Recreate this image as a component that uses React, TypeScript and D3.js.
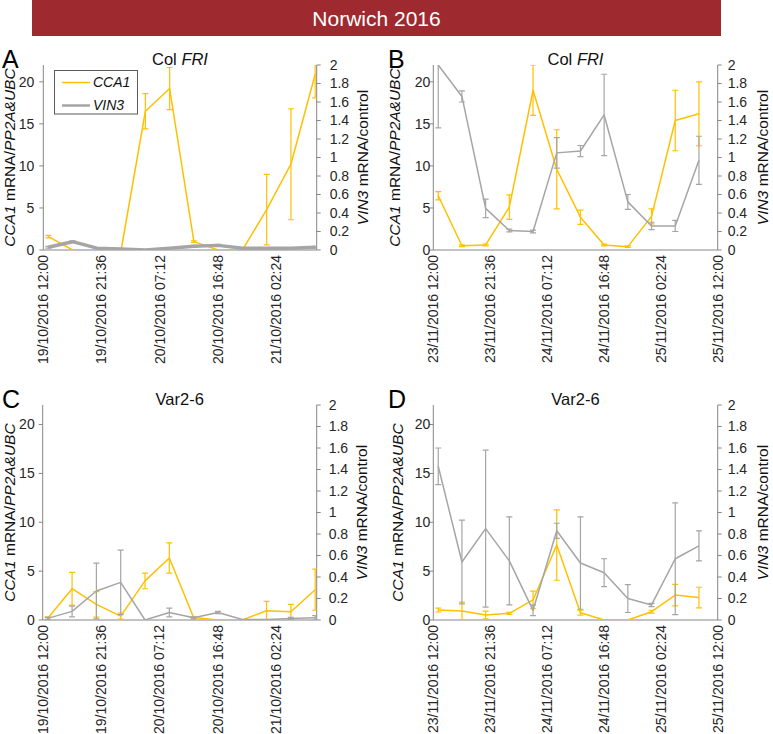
import * as React from 'react';
import * as d3 from 'd3';

// sampling times (every 4 h) and axis tick labels
const octTimes = ['19/10/2016 12:50', '19/10/2016 16:50', '19/10/2016 20:50', '20/10/2016 00:50', '20/10/2016 04:50', '20/10/2016 08:50',
  '20/10/2016 12:50', '20/10/2016 16:50', '20/10/2016 20:50', '21/10/2016 00:50', '21/10/2016 04:50', '21/10/2016 08:50'];
const novTimes = ['23/11/2016 12:50', '23/11/2016 16:50', '23/11/2016 20:50', '24/11/2016 00:50', '24/11/2016 04:50', '24/11/2016 08:50',
  '24/11/2016 12:50', '24/11/2016 16:50', '24/11/2016 20:50', '25/11/2016 00:50', '25/11/2016 04:50', '25/11/2016 08:50'];
const octTicks = ['19/10/2016 12:00', '19/10/2016 21:36', '20/10/2016 07:12', '20/10/2016 16:48', '21/10/2016 02:24'];
const novTicks = ['23/11/2016 12:00', '23/11/2016 21:36', '24/11/2016 07:12', '24/11/2016 16:48', '25/11/2016 02:24', '25/11/2016 12:00'];
const octEnd = '21/10/2016 09:05';
const novEnd = '25/11/2016 12:00';
const cca1Ticks = [0, 5, 10, 15, 20];
const vin3Ticks = [0, 0.2, 0.4, 0.6, 0.8, 1, 1.2, 1.4, 1.6, 1.8, 2];

// A: Col FRI, October
const cca1A = [1.6, 0, 0, 0, 16.5, 19.2, 1.0, 0, 0, 4.8, 10.2, 20.9];
const cca1AErr = [0.15, 0, 0, 0, 2.1, 2.5, 0.1, 0, 0, 4.2, 6.6, 2.8];
const vin3A = [0.03, 0.09, 0.02, 0.01, 0.0, 0.02, 0.04, 0.05, 0.02, 0.02, 0.02, 0.03];
const vin3AErr = [0.01, 0.01, 0, 0, 0, 0, 0.01, 0.01, 0, 0, 0, 0.01];
// B: Col FRI, November
const cca1B = [6.45, 0.5, 0.6, 5.1, 19.0, 9.6, 3.9, 0.6, 0.4, 4.0, 15.4, 16.2];
const cca1BErr = [0.5, 0.1, 0.1, 1.45, 3.0, 4.7, 0.85, 0.1, 0.1, 0.9, 3.6, 3.8];
const vin3B = [2.0, 1.66, 0.45, 0.21, 0.2, 1.05, 1.07, 1.46, 0.52, 0.26, 0.26, 0.97];
const vin3BErr = [0.68, 0.06, 0.1, 0.015, 0.015, 0.165, 0.06, 0.44, 0.08, 0.04, 0.06, 0.26];
// C: Var2-6, October
const cca1C = [0.17, 3.2, 1.6, 0.4, 4.0, 6.35, 0.25, 0, 0, 0.95, 0.85, 3.1];
const cca1CErr = [0.15, 1.67, 1.3, 0.3, 0.8, 1.55, 0.05, 0, 0, 0.95, 0.75, 2.1];
const vin3C = [0.015, 0.08, 0.27, 0.35, 0, 0.07, 0.02, 0.07, 0.005, 0.005, 0.015, 0.02];
const vin3CErr = [0.01, 0.05, 0.26, 0.3, 0, 0.04, 0.01, 0.01, 0, 0, 0.01, 0.02];
// D: Var2-6, November
const cca1D = [1.02, 0.92, 0.51, 0.68, 2.05, 7.67, 0.75, 0, 0, 0.85, 2.55, 2.3];
const cca1DErr = [0.2, 0.9, 0.4, 0.1, 0.9, 3.6, 0.25, 0, 0, 0.15, 1.1, 1.05];
const vin3D = [1.43, 0.54, 0.85, 0.55, 0.09, 0.83, 0.53, 0.44, 0.2, 0.14, 0.57, 0.69];
const vin3DErr = [0.17, 0.39, 0.73, 0.41, 0.05, 0.07, 0.43, 0.13, 0.13, 0.015, 0.52, 0.14];

const YELLOW = '#FFC000';
const GREY = '#A5A5A5';
const AXIS = '#868686';
const FONT = "'Liberation Sans', Arial, sans-serif";

type Part = { t: string; i?: boolean };

const panels = [
  { letter: 'A', title: [{ t: 'Col ' }, { t: 'FRI', i: true }], times: octTimes, ticks: octTicks, end: octEnd,
    cca1: cca1A, cca1Err: cca1AErr, vin3: vin3A, vin3Err: vin3AErr, vinW: 3.5, legend: true,
    x0: 43.3, x1: 316.7, y0: 65, y1: 250, lab: 15, rlab: 368, lgap: 9, rgap: 13 },
  { letter: 'B', title: [{ t: 'Col ' }, { t: 'FRI', i: true }], times: novTimes, ticks: novTicks, end: novEnd,
    cca1: cca1B, cca1Err: cca1BErr, vin3: vin3B, vin3Err: vin3BErr, vinW: 1.5, legend: false,
    x0: 433.3, x1: 717.7, y0: 65, y1: 250, lab: 400, rlab: 768, lgap: 3, rgap: 10 },
  { letter: 'C', title: [{ t: 'Var2-6' }], times: octTimes, ticks: octTicks, end: octEnd,
    cca1: cca1C, cca1Err: cca1CErr, vin3: vin3C, vin3Err: vin3CErr, vinW: 1.5, legend: false,
    x0: 42.7, x1: 316.7, y0: 405, y1: 620, lab: 15, rlab: 367, lgap: 8, rgap: 12 },
  { letter: 'D', title: [{ t: 'Var2-6' }], times: novTimes, ticks: novTicks, end: novEnd,
    cca1: cca1D, cca1Err: cca1DErr, vin3: vin3D, vin3Err: vin3DErr, vinW: 1.5, legend: false,
    x0: 433.3, x1: 717.7, y0: 405, y1: 620, lab: 403, rlab: 768, lgap: 3, rgap: 10 },
];

const parse = d3.timeParse('%d/%m/%Y %H:%M');

function rich(sel: any, parts: Part[]) {
  parts.forEach(p => {
    sel.append('tspan').attr('font-style', p.i ? 'italic' : 'normal').text(p.t);
  });
}

const App: React.FC = () => {
  const ref = React.useRef<SVGSVGElement>(null);

  React.useEffect(() => {
    const svg = d3.select(ref.current);
    svg.selectAll('*').remove();
    svg.attr('font-family', FONT);

    // banner
    svg.append('rect').attr('x', 32).attr('y', 0).attr('width', 689).attr('height', 36).attr('fill', '#9E2A2F');
    svg.append('text').attr('x', 376.5).attr('y', 26).attr('text-anchor', 'middle')
      .attr('font-size', 21).attr('fill', '#fff').text('Norwich 2016');

    panels.forEach((p, pi) => {
      const g = svg.append('g');
      const x = d3.scaleTime()
        .domain([parse(p.ticks[0]) as Date, parse(p.end) as Date])
        .range([p.x0, p.x1]);
      const yL = d3.scaleLinear().domain([0, 22]).range([p.y1, p.y0]);
      const yR = d3.scaleLinear().domain([0, 2]).range([p.y1, p.y0]);
      const dates = p.times.map(t => parse(t) as Date);

      const clipId = 'clip' + pi;
      g.append('clipPath').attr('id', clipId).append('rect')
        .attr('x', p.x0).attr('y', p.y0).attr('width', p.x1 - p.x0).attr('height', p.y1 - p.y0);

      // axes
      g.append('line').attr('x1', p.x0).attr('x2', p.x0).attr('y1', p.y0).attr('y2', p.y1).attr('stroke', AXIS);
      g.append('line').attr('x1', p.x1).attr('x2', p.x1).attr('y1', p.y0).attr('y2', p.y1).attr('stroke', AXIS);
      g.append('line').attr('x1', p.x0).attr('x2', p.x1).attr('y1', p.y1).attr('y2', p.y1).attr('stroke', AXIS);

      cca1Ticks.forEach(v => {
        g.append('line').attr('x1', p.x0 - 4).attr('x2', p.x0).attr('y1', yL(v)).attr('y2', yL(v)).attr('stroke', AXIS);
        g.append('text').attr('x', p.x0 - p.lgap).attr('y', yL(v)).attr('dy', '0.35em')
          .attr('text-anchor', 'end').attr('font-size', 14).attr('fill', '#262626').text(v);
      });
      vin3Ticks.forEach(v => {
        g.append('line').attr('x1', p.x1).attr('x2', p.x1 + 4).attr('y1', yR(v)).attr('y2', yR(v)).attr('stroke', AXIS);
        g.append('text').attr('x', p.x1 + p.rgap).attr('y', yR(v)).attr('dy', '0.35em')
          .attr('text-anchor', 'start').attr('font-size', 14).attr('fill', '#262626').text(d3.format('~g')(v));
      });
      p.ticks.forEach(t => {
        const tx = x(parse(t) as Date);
        g.append('text').attr('transform', `translate(${tx},${p.y1 + 5}) rotate(-90)`)
          .attr('dy', '0.35em').attr('text-anchor', 'end').attr('font-size', 14).attr('fill', '#262626').text(t);
      });

      // axis titles
      const midY = (p.y0 + p.y1) / 2;
      const lt = g.append('text').attr('transform', `translate(${p.lab},${midY}) rotate(-90)`)
        .attr('text-anchor', 'middle').attr('font-size', 15.5).attr('fill', '#111');
      rich(lt, [{ t: 'CCA1', i: true }, { t: ' mRNA/' }, { t: 'PP2A&UBC', i: true }]);
      const rt = g.append('text').attr('transform', `translate(${p.rlab},${midY}) rotate(-90)`)
        .attr('text-anchor', 'middle').attr('font-size', 15.5).attr('fill', '#111');
      rich(rt, [{ t: 'VIN3', i: true }, { t: ' mRNA/control' }]);

      // panel title + letter
      const tt = g.append('text').attr('x', (p.x0 + p.x1) / 2).attr('y', p.y0)
        .attr('text-anchor', 'middle').attr('font-size', 16.5).attr('fill', '#111');
      rich(tt, p.title);
      g.append('text').attr('x', p.x0 < 100 ? 2 : 388).attr('y', p.y0 + 2.5)
        .attr('font-size', 25).attr('fill', '#000').text(p.letter);

      // series
      const plot = g.append('g').attr('clip-path', `url(#${clipId})`);
      const series = [
        { vals: p.cca1, errs: p.cca1Err, y: yL, color: YELLOW, w: 1.5 },
        { vals: p.vin3, errs: p.vin3Err, y: yR, color: GREY, w: p.vinW },
      ];
      series.forEach(s => {
        const line = d3.line<number>().x((_, i) => x(dates[i])).y(v => s.y(v));
        plot.append('path').attr('d', line(s.vals)).attr('fill', 'none')
          .attr('stroke', s.color).attr('stroke-width', s.w).attr('stroke-linejoin', 'round');
        s.vals.forEach((v, i) => {
          const e = s.errs[i];
          if (!e) return;
          const cx = x(dates[i]);
          const top = s.y(v + e), bot = s.y(Math.max(0, v - e));
          plot.append('line').attr('x1', cx).attr('x2', cx).attr('y1', top).attr('y2', bot).attr('stroke', s.color).attr('stroke-width', 1.2);
          [top, bot].forEach(yy => {
            plot.append('line').attr('x1', cx - 3).attr('x2', cx + 3).attr('y1', yy).attr('y2', yy).attr('stroke', s.color).attr('stroke-width', 1.2);
          });
        });
      });

      if (p.legend) {
        const lg = g.append('g');
        lg.append('rect').attr('x', 54.5).attr('y', 70.5).attr('width', 83).attr('height', 43.5)
          .attr('fill', '#fff').attr('stroke', '#595959');
        [{ name: 'CCA1', color: YELLOW, w: 1.5, y: 82.5 }, { name: 'VIN3', color: GREY, w: 2.5, y: 105.5 }].forEach(it => {
          lg.append('line').attr('x1', 62).attr('x2', 90).attr('y1', it.y).attr('y2', it.y)
            .attr('stroke', it.color).attr('stroke-width', it.w);
          lg.append('text').attr('x', 93).attr('y', it.y).attr('dy', '0.35em').attr('font-size', 14)
            .attr('font-style', 'italic').attr('fill', '#111').text(it.name);
        });
      }
    });
  });

  return (
    <div style={{ position: 'absolute', left: 0, top: 0 }}>
      <svg ref={ref} width={773} height={734} style={{ display: 'block', background: '#fff' }} />
    </div>
  );
};

export default App;
